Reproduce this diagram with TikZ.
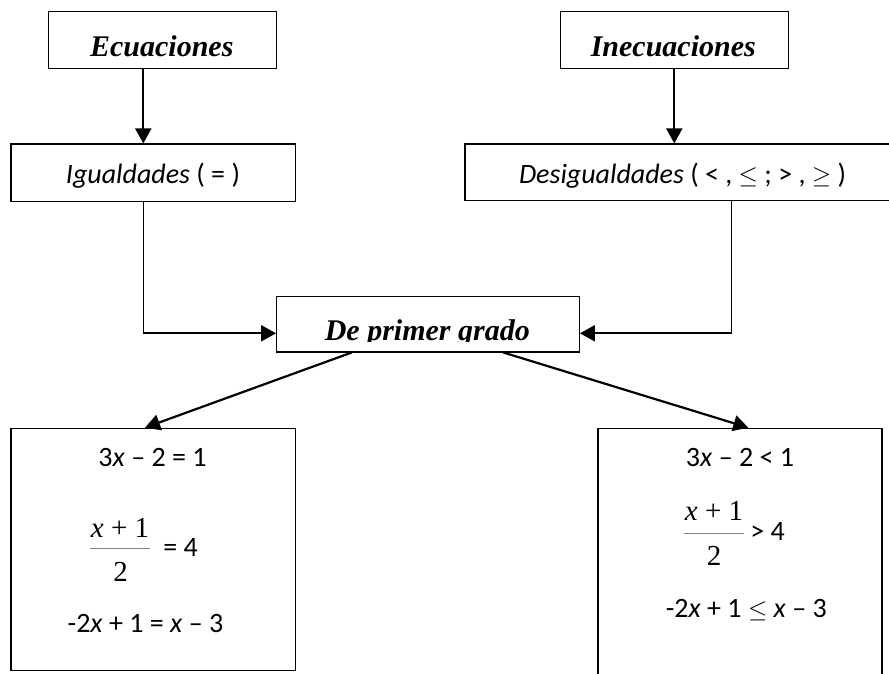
\documentclass[tikz,border=0pt]{standalone}
\usepackage{fontspec}
\setmainfont{Carlito}
\newfontfamily\titlefont{Liberation Serif}
\newfontfamily\fracfont{Liberation Serif}
\usetikzlibrary{arrows.meta}
\begin{document}
\begin{tikzpicture}[x=1pt,y=-1pt,
  box/.style={draw, line width=1.3pt, inner sep=0pt},
  ttl/.style={anchor=base, inner sep=0pt, font=\titlefont\bfseries\itshape\fontsize{30}{36}\selectfont},
  body/.style={anchor=base, inner sep=0pt, font=\fontsize{28}{33}\selectfont},
  frac/.style={anchor=base, inner sep=0pt, font=\fracfont\fontsize{29}{34}\selectfont},
  arr/.style={line width=2.2pt, -{Triangle[length=15pt,width=16pt]}},
  thinline/.style={line width=1.4pt},
  fbar/.style={line width=0.8pt, gray}]
\useasboundingbox (0,0) rectangle (889,673);
\clip (0,0) rectangle (889,673);
% boxes
\node[box, minimum width=227.6pt, minimum height=57.4pt] (ec) at (162.5,40) {};
\node[box, minimum width=228pt, minimum height=57.4pt] (in) at (674.2,40) {};
\node[box, minimum width=284.3pt, minimum height=57.3pt] (ig) at (153.2,172.7) {};
\node[box, minimum width=435pt, minimum height=56.3pt] (de) at (682.5,172.2) {};
\node[box, minimum width=302.6pt, minimum height=55.7pt] (dp) at (428,324) {};
\node[box, minimum width=284.3pt, minimum height=242.4pt] (ll) at (153.2,549.5) {};
\node[box, minimum width=284pt, minimum height=262pt] (rr) at (740,559.3) {};
% titles
\node[ttl] (ect) at (161.8,56.7) {Ecuaciones};
\node[ttl] (int) at (673.3,56.7) {Inecuaciones};
\node[body] (igt) at (153,183.3) {\itshape Igualdades\upshape\ ( = )};
\node[body] (det) at (682.5,183.3) {\itshape Desigualdades\upshape\ ( < , $\leq$ ; > , $\geq$ )};
\begin{scope}
  \clip (276,296) rectangle (580,341.7);
  \node[ttl] (dpt) at (427.3,340.6) {De primer grado};
\end{scope}
% connectors
\coordinate (a1) at (143.3,333.3);
\coordinate (a2) at (674.3,0);
\coordinate (c2) at (731.5,333.3);
\draw[arr] (ec.south -| a1) -- (ig.north -| a1);
\draw[arr] (in.south -| a2) -- (de.north -| a2);
\draw[thinline] (ig.south -| a1) -- (a1);
\draw[arr] (a1) -- (dp.west |- a1);
\draw[thinline] (de.south -| c2) -- (c2);
\draw[arr] (c2) -- (dp.east |- c2);
\coordinate (d1) at (351.7,0);
\coordinate (d2) at (145,0);
\coordinate (d3) at (503.3,0);
\coordinate (d4) at (748.3,0);
\draw[arr] (dp.south -| d1) -- (ll.north -| d2);
\draw[arr] (dp.south -| d3) -- (rr.north -| d4);
% left box contents
\node[body] (l1) at (152.5,466.7) {3\textit{x} – 2 = 1};
\node[frac] (l2n) at (120,537) {\textit{x} + 1};
\node[frac] (l2d) at (120.5,581.7) {2};
\draw[fbar] (90,548.3) -- (150,548.3);
\node[body] (l2r) at (180.5,556.7) {= 4};
\node[body] (l3) at (145.5,632.7) {-2\textit{x} + 1 = \textit{x} – 3};
% right box contents
\node[body] (r1) at (740,466.7) {3\textit{x} – 2 < 1};
\node[frac] (r2n) at (714,520.7) {\textit{x} + 1};
\node[frac] (r2d) at (714.2,565) {2};
\draw[fbar] (684,533.3) -- (744,533.3);
\node[body] (r2r) at (767.5,540) {> 4};
\node[body] (r3) at (746.3,617.3) {-2\textit{x} + 1 $\leq$ \textit{x} – 3};
\end{tikzpicture}
\end{document}
